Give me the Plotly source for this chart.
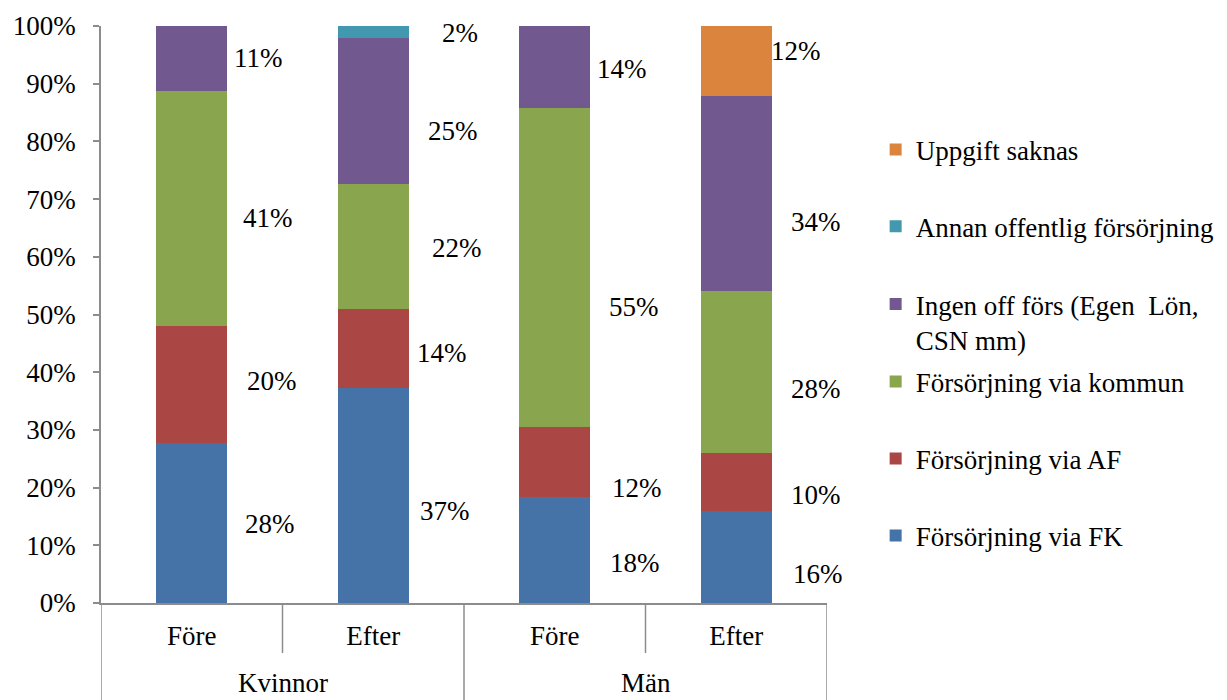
import plotly.graph_objects as go

groups = ["Kvinnor", "Kvinnor", "Män", "Män"]
periods = ["Före", "Efter", "Före", "Efter"]

series_names = [
    "Försörjning via FK",
    "Försörjning via AF",
    "Försörjning via kommun",
    "Ingen off förs (Egen  Lön,<br>CSN mm)",
    "Annan offentlig försörjning",
    "Uppgift saknas",
]
fk = [27.7, 37.3, 18.4, 15.9]
af = [20.3, 13.7, 12.1, 10.1]
kommun = [40.7, 21.6, 55.3, 28.1]
ingen = [11.3, 25.3, 14.2, 33.8]
annan = [0, 2.1, 0, 0]
uppgift = [0, 0, 0, 12.1]
series_values = [fk, af, kommun, ingen, annan, uppgift]

colors = ["#4572A7", "#AA4643", "#89A54E", "#71588F", "#4198AF", "#DB843D"]

# label placement tweaks (pixels) per series per bar
label_xshift = [
    [78, 72, 80, 82],
    [80, 69, 82, 80],
    [76, 84, 79, 80],
    [67, 80, 67, 80],
    [0, 87, 0, 0],
    [0, 0, 0, 60],
]
label_yshift = [
    [-1, -16, -13, -17],
    [4, -5, -26, -13],
    [-9, -2, -40, -17],
    [1, -20, -2, -29],
    [0, -1, 0, 0],
    [0, 0, 0, 10],
]
# legend vertical anchors (paper coords), one legend box per series
legend_y = [0.116, 0.2496, 0.383, 0.487, 0.652, 0.785]

FONT = "Liberation Serif"
FS = 27
AXC = "#8c8c8c"
PLOT_H = 577

cats = [f"{g} {p}" for g, p in zip(groups, periods)]

fig = go.Figure()
legend_layout = {}
for i, (name, vals) in enumerate(zip(series_names, series_values)):
    lname = "legend" if i == 0 else f"legend{i + 1}"
    fig.add_trace(go.Bar(
        x=cats, y=vals, name=name,
        marker=dict(color=colors[i], line=dict(width=0)),
        legend=lname,
    ))
    legend_layout[lname] = dict(
        x=1.067, y=legend_y[i], xanchor="left", yanchor="middle",
        valign="top", itemwidth=30, bgcolor="rgba(0,0,0,0)",
        font=dict(family=FONT, size=FS, color="black"),
    )

annotations = []
cum = [0, 0, 0, 0]
for i, vals in enumerate(series_values):
    for j, v in enumerate(vals):
        if v > 0:
            mid = cum[j] + v / 2
            annotations.append(dict(
                x=j, y=mid, xref="x", yref="y", text=f"{round(v)}%",
                showarrow=False, xshift=label_xshift[i][j], yshift=label_yshift[i][j],
                font=dict(family=FONT, size=FS, color="black"),
            ))
        cum[j] += v

# group labels (second category level)
group_names = list(dict.fromkeys(groups))
for g in group_names:
    idx = [k for k, gg in enumerate(groups) if gg == g]
    annotations.append(dict(
        x=sum(idx) / len(idx), y=-80 / PLOT_H, xref="x", yref="paper",
        text=g, showarrow=False, yanchor="middle",
        font=dict(family=FONT, size=FS, color="black"),
    ))

# category dividers
shapes = []
for k in range(len(cats) + 1):
    xb = k - 0.5
    is_group_edge = k == 0 or k == len(cats) or groups[k] != groups[k - 1]
    y1 = -97 / PLOT_H if is_group_edge else -50 / PLOT_H
    shapes.append(dict(type="line", xref="x", yref="paper", x0=xb, x1=xb,
                       y0=0, y1=y1, line=dict(color=AXC, width=1.5)))

# page body has an 8px margin; compensate so the chart sits at the window origin
fig.update_layout(
    barmode="stack",
    bargap=0.61,
    width=1219, height=692,
    margin=dict(l=93, r=400, t=18, b=97, autoexpand=False),
    paper_bgcolor="white", plot_bgcolor="white",
    font=dict(family=FONT, size=FS, color="black"),
    showlegend=True,
    annotations=annotations,
    shapes=shapes,
    xaxis=dict(
        type="category", range=[-0.5, len(cats) - 0.5],
        tickvals=cats, ticktext=periods,
        showline=True, linecolor=AXC, linewidth=1.5,
        ticks="outside", ticklen=8, tickcolor="rgba(0,0,0,0)",
        tickfont=dict(family=FONT, size=FS, color="black"), automargin=False,
    ),
    yaxis=dict(
        range=[0, 100], tickvals=[0, 10, 20, 30, 40, 50, 60, 70, 80, 90, 100],
        ticktext=[f"{v}%" for v in range(0, 101, 10)],
        showgrid=False, zeroline=False, showline=True, linecolor=AXC, linewidth=1.5,
        ticks="outside", ticklen=6, tickcolor=AXC, tickwidth=1.5, ticklabelstandoff=12,
        tickfont=dict(family=FONT, size=FS, color="black"), automargin=False,
    ),
    **legend_layout,
)
fig.write_html("out.html")
